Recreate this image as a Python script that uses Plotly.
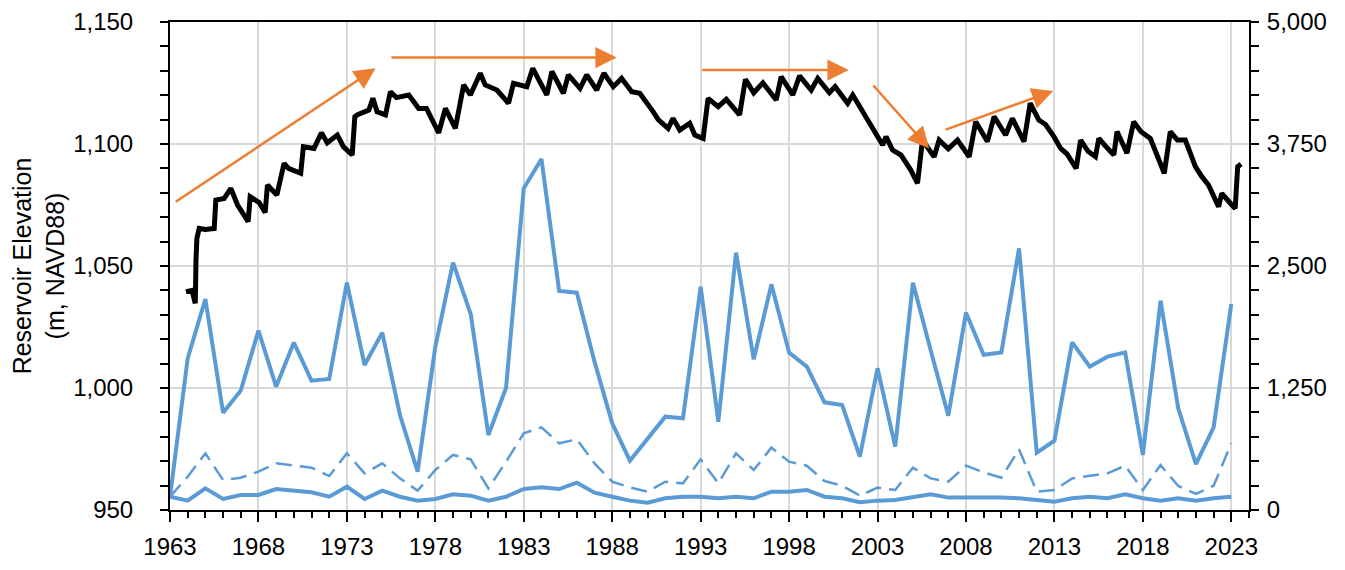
import plotly.graph_objects as go

# Annual values (right axis) -------------------------------------------------
years = list(range(1963, 2024))

flow_high = [136, 1554, 2162, 997, 1223, 1838, 1264, 1715, 1325, 1342,
             2329, 1486, 1817, 973, 393, 1673, 2534, 2008, 768, 1253,
             3296, 3596, 2244, 2227, 1520, 888, 505, 734, 956, 939,
             2288, 905, 2637, 1544, 2312, 1612, 1469, 1103, 1076, 546,
             1452, 649, 2329, 1639, 966, 2022, 1590, 1615, 2681, 587,
             710, 1718, 1469, 1571, 1615, 564, 2145, 1042, 471, 847,
             2111]

flow_mid = [136, 341, 581, 307, 331, 393, 478, 454, 434, 348,
            581, 376, 478, 324, 198, 410, 564, 519, 222, 495,
            786, 847, 683, 724, 478, 290, 232, 188, 290, 273,
            519, 273, 581, 410, 639, 495, 454, 297, 249, 147,
            229, 205, 434, 324, 290, 454, 385, 331, 622, 188,
            205, 324, 348, 376, 454, 205, 461, 246, 164, 249,
            683]

flow_low = [136, 96, 222, 113, 154, 154, 215, 198, 181, 136,
            239, 113, 198, 136, 96, 113, 161, 147, 96, 136,
            215, 232, 215, 280, 178, 136, 96, 75, 120, 136,
            136, 120, 136, 120, 188, 188, 205, 136, 120, 79,
            96, 102, 127, 161, 127, 127, 136, 127, 120, 102,
            85, 120, 136, 120, 161, 120, 96, 120, 96, 120,
            136]

# Reservoir elevation (left axis), read at seasonal highs/lows ----------------
elev_t = [1963.90, 1964.25, 1964.38, 1964.43, 1964.47, 1964.52, 1964.65, 1965.00,
          1965.50, 1965.59, 1966.06, 1966.44, 1966.82, 1967.42, 1967.53, 1968.04,
          1968.38, 1968.51, 1969.04, 1969.45, 1969.70, 1970.39, 1970.54, 1971.14,
          1971.56, 1971.89, 1972.46, 1972.80, 1973.30, 1973.45, 1973.60, 1974.24,
          1974.47, 1974.71, 1975.18, 1975.46, 1975.80, 1976.50, 1977.06, 1977.50,
          1978.19, 1978.57, 1979.13, 1979.60, 1979.98, 1980.54, 1980.82, 1981.48,
          1982.14, 1982.42, 1983.17, 1983.51, 1984.30, 1984.59, 1985.24, 1985.52,
          1986.18, 1986.56, 1987.12, 1987.53, 1988.06, 1988.53, 1989.10, 1989.56,
          1990.32, 1990.60, 1991.16, 1991.44, 1991.82, 1992.38, 1992.67, 1993.14,
          1993.42, 1993.99, 1994.45, 1995.20, 1995.53, 1996.00, 1996.52, 1997.27,
          1997.55, 1998.21, 1998.59, 1999.25, 1999.62, 2000.28, 2000.60, 2001.31,
          2001.60, 2002.16, 2002.72, 2003.29, 2003.48, 2003.85, 2004.32, 2004.88,
          2005.26, 2005.45, 2005.54, 2006.20, 2006.48, 2007.00, 2007.52, 2008.18,
          2008.55, 2009.21, 2009.59, 2010.24, 2010.62, 2011.28, 2011.63, 2012.12,
          2012.50, 2012.97, 2013.35, 2013.70, 2014.23, 2014.48, 2014.90, 2015.32,
          2015.51, 2015.90, 2016.36, 2016.54, 2017.10, 2017.48, 2017.90, 2018.42,
          2018.80, 2019.21, 2019.55, 2019.95, 2020.40, 2020.60, 2020.97, 2021.30,
          2021.71, 2022.28, 2022.46, 2023.03, 2023.22, 2023.36, 2023.55]

elev_m = [1039.5, 1040.0, 1036.0, 1034.7, 1052.5, 1061.3, 1065.4, 1065.0,
          1065.4, 1077.0, 1077.7, 1081.8, 1075.0, 1068.2, 1078.4, 1076.0,
          1071.9, 1083.2, 1079.1, 1092.1, 1090.0, 1088.0, 1098.9, 1098.2,
          1104.6, 1100.5, 1103.7, 1098.9, 1095.5, 1111.2, 1112.0, 1113.9,
          1118.7, 1113.2, 1111.9, 1121.4, 1119.0, 1120.1, 1114.6, 1114.6,
          1104.6, 1114.6, 1106.4, 1124.2, 1120.1, 1129.0, 1124.2, 1122.1,
          1116.7, 1124.9, 1123.5, 1131.0, 1120.1, 1129.7, 1120.8, 1128.3,
          1122.8, 1128.3, 1122.1, 1129.0, 1123.5, 1126.9, 1121.4, 1120.8,
          1113.2, 1110.0, 1106.4, 1110.5, 1105.7, 1108.5, 1103.7, 1102.3,
          1118.7, 1115.3, 1118.3, 1111.9, 1126.5, 1121.0, 1125.1, 1118.0,
          1127.6, 1120.1, 1127.9, 1122.1, 1126.9, 1121.0, 1123.5, 1116.7,
          1120.1, 1113.2, 1107.1, 1099.6, 1103.0, 1097.5, 1095.5, 1089.3,
          1083.9, 1098.2, 1101.6, 1094.8, 1101.6, 1098.0, 1101.6, 1094.8,
          1109.1, 1101.0, 1111.2, 1103.7, 1110.5, 1101.0, 1116.7, 1109.8,
          1108.0, 1103.0, 1098.2, 1096.0, 1090.0, 1101.6, 1097.0, 1094.8,
          1102.3, 1099.0, 1095.5, 1105.1, 1096.2, 1109.1, 1105.0, 1102.3,
          1095.0, 1088.0, 1105.1, 1101.6, 1101.6, 1098.0, 1090.7, 1087.0,
          1083.2, 1074.3, 1079.8, 1075.0, 1073.6, 1090.7, 1091.8]

# Trend arrows: (tail_x, tail_y, head_x, head_y) in left-axis units
trend_arrows = [
    (1963.24, 1075.9, 1974.62, 1131.0),
    (1975.43, 1135.4, 1988.25, 1135.4),
    (1993.00, 1130.3, 2001.37, 1130.3),
    (2002.69, 1124.6, 2005.92, 1098.2),
    (2006.77, 1105.7, 2012.93, 1121.7),
]

BLUE = "#5B9BD5"
ORANGE = "#ED7D31"
FONT = "Liberation Sans, Arial"

fig = go.Figure()
fig.add_trace(go.Scatter(x=years, y=flow_high, yaxis="y2", mode="lines",
                         line=dict(color=BLUE, width=4), name="high"))
fig.add_trace(go.Scatter(x=years, y=flow_mid, yaxis="y2", mode="lines",
                         line=dict(color=BLUE, width=2.5, dash="16px,8px"), name="mid"))
fig.add_trace(go.Scatter(x=years, y=flow_low, yaxis="y2", mode="lines",
                         line=dict(color=BLUE, width=4), name="low"))
fig.add_trace(go.Scatter(x=elev_t, y=elev_m, mode="lines",
                         line=dict(color="black", width=5), name="elevation"))

for tx, ty, hx, hy in trend_arrows:
    fig.add_annotation(x=hx, y=hy, ax=tx, ay=ty, xref="x", yref="y",
                       axref="x", ayref="y", showarrow=True, text="",
                       arrowhead=2, arrowsize=1.7, arrowwidth=2.5,
                       arrowcolor=ORANGE, standoff=0, startstandoff=0)

# page body adds an 8px offset, so the figure is 8px smaller on each side
fig.update_layout(
    width=1337, height=562,
    margin=dict(l=162, r=96, t=14, b=60, autoexpand=False),
    plot_bgcolor="white", paper_bgcolor="white",
    showlegend=False,
    font=dict(family=FONT, size=24, color="black"),
    xaxis=dict(range=[1963, 2024], tick0=1963, dtick=5, tickformat="d",
               automargin=False,
               showgrid=True, gridcolor="#D9D9D9", gridwidth=2,
               showline=True, linecolor="black", linewidth=2, mirror=True,
               ticks="outside", ticklen=10, tickwidth=2, tickcolor="black",
               ticklabelstandoff=4,
               minor=dict(dtick=1, ticks="outside", ticklen=6,
                          tickwidth=2, tickcolor="black", showgrid=False),
               zeroline=False),
    yaxis=dict(range=[950, 1150], dtick=50, tickformat=",d",
               automargin=False,
               showgrid=True, gridcolor="#D9D9D9", gridwidth=2,
               showline=True, linecolor="black", linewidth=2,
               ticks="outside", ticklen=8, tickwidth=2, tickcolor="black",
               ticklabelstandoff=22,
               minor=dict(dtick=10, ticks="outside", ticklen=8,
                          tickwidth=2, tickcolor="black", showgrid=False),
               zeroline=False,
               title=dict(text="Reservoir Elevation<br>(m, NAVD88)",
                          font=dict(size=25), standoff=20)),
    yaxis2=dict(range=[0, 5000], dtick=1250, tickformat=",d",
                automargin=False,
                overlaying="y", side="right", showgrid=False,
                showline=True, linecolor="black", linewidth=2,
                ticks="outside", ticklen=8, tickwidth=2, tickcolor="black",
                ticklabelstandoff=3,
                minor=dict(dtick=250, ticks="outside", ticklen=8,
                           tickwidth=2, tickcolor="black"),
                zeroline=False),
)

fig.write_html("out.html")
